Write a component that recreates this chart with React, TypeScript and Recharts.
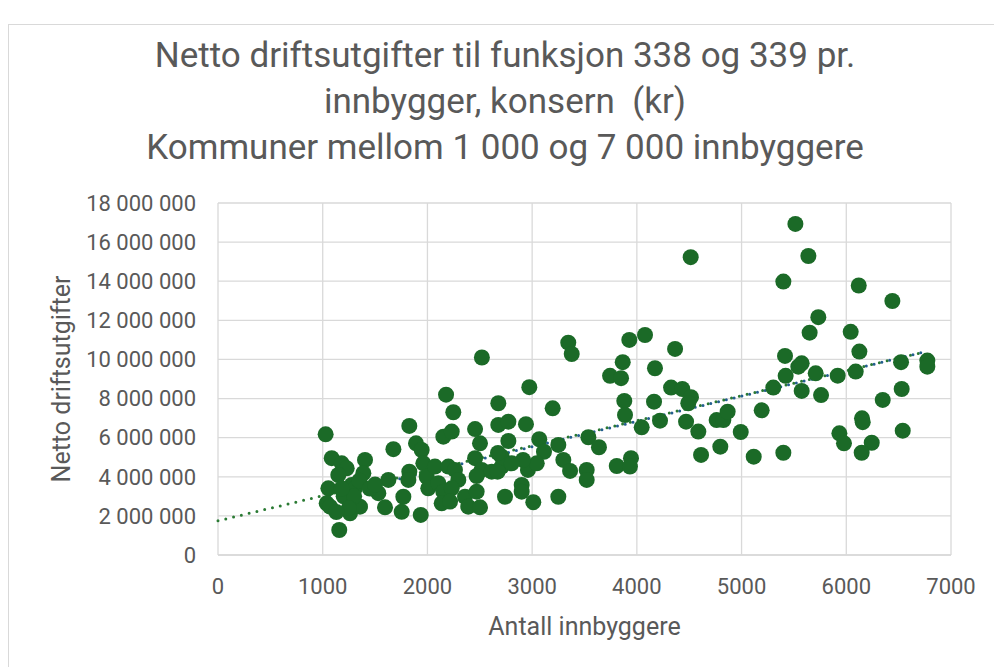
import React from 'react';
import {
  ScatterChart,
  Scatter,
  XAxis,
  YAxis,
  CartesianGrid,
  ReferenceLine,
  Label,
} from 'recharts';

// Antall innbyggere (x) per kommune
const innbyggere: number[] = [
  1028, 1086, 1181, 1229, 1149, 1054, 1038, 1277, 1277, 1261, 1158, 1070, 1404, 1388, 1308, 1356,
  1531, 1595, 1627, 1675, 1827, 1891, 1945, 1827, 1818, 1770, 1754, 1936, 1961, 1993, 2008, 2072,
  2104, 2152, 2232, 2247, 2178, 2200, 2263, 2295, 2152, 2232, 2136, 2216, 2359, 2390, 2502, 2470,
  2455, 2502, 2455, 2518, 2470, 2614, 2677, 2677, 2709, 2709, 2741, 2520, 3345, 3378, 2973, 3196,
  2773, 2941, 2773, 3068, 3250, 3113, 3537, 3638, 3298, 3362, 3521, 3521, 3808, 3944, 3934, 3928,
  4078, 3865, 3744, 3849, 3880, 3887, 4046, 4173, 4164, 2900, 2900, 3011, 3250, 2960, 3044, 2913,
  2805, 2670, 2674, 5399, 4365, 4327, 4434, 4517, 4491, 4221, 4470, 4587, 4762, 4826, 4867, 4992,
  5192, 5303, 5415, 5421, 5542, 5574, 5574, 4613, 4797, 5116, 5399, 5650, 4514, 5638, 5733, 5514,
  6119, 6440, 6042, 6125, 5708, 5759, 5918, 6090, 6523, 6774, 6774, 6348, 6529, 6150, 6157, 5934,
  5978, 6243, 6147, 6539, 1200, 1300, 1350, 1450, 1500, 1250, 1180, 1130,
];

// Netto driftsutgifter (y) per kommune
const driftsutgifter: number[] = [
  6170000, 4950000, 4690000, 4430000, 4090000, 3410000, 2640000, 3580000, 2810000, 2130000, 1280000, 2470000, 4860000, 4180000, 3410000, 2470000,
  3160000, 2440000, 3840000, 5410000, 6600000, 5710000, 5370000, 4260000, 3840000, 2980000, 2210000, 2050000, 4690000, 4000000, 3410000, 4520000,
  3670000, 6050000, 6310000, 7300000, 8200000, 4520000, 4350000, 3840000, 3240000, 3410000, 2640000, 2730000, 2980000, 2470000, 2440000, 3240000,
  6440000, 5710000, 4950000, 4350000, 4040000, 4260000, 7760000, 6650000, 5030000, 4520000, 2980000, 10100000, 10860000, 10280000, 8580000, 7500000,
  6820000, 6690000, 5830000, 5920000, 5630000, 5280000, 6020000, 5510000, 4860000, 4300000, 4350000, 3840000, 4550000, 4950000, 4520000, 11000000,
  11250000, 9860000, 9160000, 9040000, 7880000, 7160000, 6530000, 9550000, 7840000, 3580000, 3240000, 2700000, 2980000, 4350000, 4690000, 4860000,
  4690000, 4260000, 5220000, 13980000, 10540000, 8560000, 8490000, 8070000, 7760000, 6870000, 6820000, 6310000, 6900000, 6900000, 7330000, 6290000,
  7400000, 8560000, 10180000, 9160000, 9630000, 9800000, 8390000, 5120000, 5540000, 5030000, 5230000, 11370000, 15230000, 15290000, 12160000, 16930000,
  13780000, 12990000, 11410000, 10400000, 9290000, 8180000, 9170000, 9380000, 9860000, 9940000, 9630000, 7930000, 8490000, 6990000, 6790000, 6220000,
  5710000, 5740000, 5230000, 6360000, 3000000, 3000000, 3800000, 3400000, 3600000, 2400000, 3400000, 2200000,
];

// Trendlinje (lineær) — endepunkter lest av figuren
const trendX: number[] = [0, 6760];
const trendY: number[] = [1750000, 10400000];
const trendBlueX: number[] = [1030, 6760];
const trendBlueY: number[] = [2990000, 10400000];

const xTicks: number[] = [0, 1000, 2000, 3000, 4000, 5000, 6000, 7000];
const yTicks: number[] = [0, 2000000, 4000000, 6000000, 8000000, 10000000, 12000000, 14000000, 16000000, 18000000];

const titleLines: string[] = [
  'Netto driftsutgifter til funksjon 338 og 339 pr.',
  'innbygger, konsern  (kr)',
  'Kommuner mellom 1 000 og 7 000 innbyggere',
];
const xTitle = 'Antall innbyggere';
const yTitle = 'Netto driftsutgifter';

const data = innbyggere.map((x, i) => ({ x, y: driftsutgifter[i] }));

const fmtY = (v: number) => String(v).replace(/\B(?=(\d{3})+(?!\d))/g, '\u00a0');

const GREY = '#595959';
const GRID = '#d9d9d9';
const FONT = 'Roboto, "Open Sans", sans-serif';

const Dot = (props: any) => {
  const { cx, cy } = props;
  if (cx == null || cy == null) return null;
  return <circle cx={cx} cy={cy} r={8} fill="#1B6A27" />;
};

export default function App() {
  return (
    <div style={{ position: 'absolute', left: 0, top: 0, width: 994, height: 667, overflow: 'hidden', background: '#fff' }}>
      <div
        style={{
          position: 'absolute',
          left: 8,
          top: 24,
          width: 1100,
          height: 800,
          border: `1px solid ${GRID}`,
          boxSizing: 'border-box',
        }}
      />
      <div
        style={{
          position: 'absolute',
          left: 0,
          top: 33,
          width: 1010,
          textAlign: 'center',
          fontFamily: FONT,
          fontSize: 35,
          lineHeight: '46px',
          color: GREY,
          whiteSpace: 'pre',
        }}
      >
        {titleLines.map((t, i) => (
          <div key={i}>{t}</div>
        ))}
      </div>
      <div style={{ position: 'absolute', left: 0, top: 0 }}>
        <ScatterChart width={994} height={667} margin={{ top: 203, right: 43, bottom: 0, left: 0 }}>
          <CartesianGrid stroke={GRID} strokeWidth={1.3} />
          <XAxis
            type="number"
            dataKey="x"
            domain={[0, 7000]}
            ticks={xTicks}
            height={112}
            tickLine={false}
            tickSize={0}
            tickMargin={23}
            axisLine={{ stroke: GRID, strokeWidth: 1.3 }}
            tick={{ fill: GREY, fontSize: 22, fontFamily: FONT }}
            interval={0}
          >
            <Label
              content={(p: any) => {
                const vb = p.viewBox;
                return (
                  <text x={vb.x + vb.width / 2} y={635} textAnchor="middle" fill={GREY} fontSize={25} fontFamily={FONT}>
                    {xTitle}
                  </text>
                );
              }}
            />
          </XAxis>
          <YAxis
            type="number"
            dataKey="y"
            domain={[0, 18000000]}
            ticks={yTicks}
            width={218}
            tickLine={false}
            tickSize={0}
            tickMargin={22}
            axisLine={false}
            tickFormatter={fmtY}
            tick={{ fill: GREY, fontSize: 22, fontFamily: FONT }}
            interval={0}
          >
            <Label
              content={(p: any) => {
                const vb = p.viewBox;
                const cx = 70;
                const cy = vb.y + vb.height / 2;
                return (
                  <text
                    x={cx}
                    y={cy}
                    transform={`rotate(-90 ${cx} ${cy})`}
                    textAnchor="middle"
                    fill={GREY}
                    fontSize={25}
                    fontFamily={FONT}
                  >
                    {yTitle}
                  </text>
                );
              }}
            />
          </YAxis>
          <Scatter data={data} shape={<Dot />} isAnimationActive={false} />
          <ReferenceLine
            segment={[
              { x: trendX[0], y: trendY[0] },
              { x: trendX[1], y: trendY[1] },
            ]}
            stroke="#2A7A33"
            strokeWidth={3}
            strokeDasharray="0 8"
            strokeLinecap="round"
            ifOverflow="visible"
          />
          <ReferenceLine
            segment={[
              { x: trendBlueX[0], y: trendBlueY[0] },
              { x: trendBlueX[1], y: trendBlueY[1] },
            ]}
            stroke="#245E8F"
            strokeWidth={3}
            strokeDasharray="0 8"
            strokeDashoffset={4}
            strokeLinecap="round"
            ifOverflow="visible"
          />
        </ScatterChart>
      </div>
    </div>
  );
}
